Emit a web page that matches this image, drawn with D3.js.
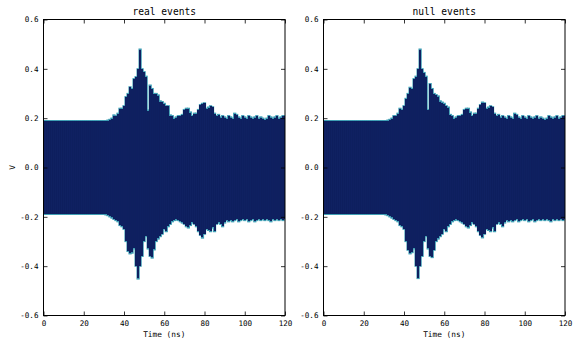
<!DOCTYPE html>
<html>
<head>
<meta charset="utf-8">
<script src="https://cdn.jsdelivr.net/npm/d3@7"></script>
<style>
  body { margin: 0; background: #fff; }
  svg text { font-family: "DejaVu Sans Mono", monospace; fill: #000; }
</style>
</head>
<body>
<svg id="chart" width="581" height="349"></svg>
<script>
// time samples (ns), one per ns
var times = d3.range(0, 121);

var xTicks = [0, 20, 40, 60, 80, 100, 120],
    yTicks = [-0.6, -0.4, -0.2, 0.0, 0.2, 0.4, 0.6];

var panelTitles = ['real events', 'null events'];

// upper / lower envelope of the overlaid traces (V), read per ns
var realUpper = [
    0.19, 0.19, 0.19, 0.19, 0.19, 0.19, 0.19, 0.19, 0.19, 0.19,
    0.19, 0.19, 0.19, 0.19, 0.19, 0.19, 0.19, 0.19, 0.19, 0.19,
    0.19, 0.19, 0.19, 0.19, 0.19, 0.19, 0.19, 0.19, 0.19, 0.19,
    0.19, 0.19, 0.192, 0.195, 0.2, 0.213, 0.21, 0.22, 0.24, 0.24,
    0.25, 0.287, 0.3, 0.327, 0.32, 0.36, 0.368, 0.40, 0.48, 0.40,
    0.388, 0.37, 0.233, 0.334, 0.32, 0.30, 0.30, 0.294, 0.27, 0.267,
    0.26, 0.25, 0.25, 0.213, 0.21, 0.2, 0.205, 0.21, 0.21, 0.215,
    0.235, 0.24, 0.24, 0.225, 0.21, 0.22, 0.22, 0.235, 0.255, 0.26,
    0.262, 0.24, 0.245, 0.25, 0.246, 0.22, 0.21, 0.215, 0.205, 0.21,
    0.205, 0.2, 0.21, 0.205, 0.2, 0.22, 0.215, 0.205, 0.2, 0.21,
    0.205, 0.2, 0.21, 0.205, 0.2, 0.205, 0.21, 0.2, 0.205, 0.2,
    0.195, 0.2, 0.21, 0.205, 0.2, 0.205, 0.21, 0.2, 0.205, 0.21,
    0.21
];
var realLower = [
    -0.19, -0.19, -0.19, -0.19, -0.19, -0.19, -0.19, -0.19, -0.19, -0.19,
    -0.19, -0.19, -0.19, -0.19, -0.19, -0.19, -0.19, -0.19, -0.19, -0.19,
    -0.19, -0.19, -0.19, -0.19, -0.19, -0.19, -0.19, -0.19, -0.19, -0.19,
    -0.19, -0.192, -0.195, -0.2, -0.205, -0.21, -0.215, -0.22, -0.235, -0.24,
    -0.25, -0.30, -0.34, -0.35, -0.347, -0.33, -0.40, -0.452, -0.40, -0.36,
    -0.30, -0.28, -0.33, -0.36, -0.367, -0.334, -0.30, -0.29, -0.28, -0.27,
    -0.25, -0.26, -0.24, -0.23, -0.22, -0.215, -0.213, -0.215, -0.22, -0.225,
    -0.23, -0.24, -0.245, -0.235, -0.225, -0.23, -0.24, -0.26, -0.275, -0.286,
    -0.27, -0.25, -0.255, -0.26, -0.245, -0.26, -0.23, -0.225, -0.23, -0.24,
    -0.225, -0.215, -0.22, -0.215, -0.22, -0.215, -0.21, -0.22, -0.215, -0.21,
    -0.215, -0.21, -0.22, -0.215, -0.21, -0.22, -0.215, -0.21, -0.215, -0.21,
    -0.215, -0.21, -0.215, -0.22, -0.21, -0.215, -0.21, -0.215, -0.21, -0.215,
    -0.21
];
var nullUpper = [
    0.19, 0.19, 0.19, 0.19, 0.19, 0.19, 0.19, 0.19, 0.19, 0.19,
    0.19, 0.19, 0.19, 0.19, 0.19, 0.19, 0.19, 0.19, 0.19, 0.19,
    0.19, 0.19, 0.19, 0.19, 0.19, 0.19, 0.19, 0.19, 0.19, 0.19,
    0.19, 0.19, 0.192, 0.195, 0.2, 0.21, 0.21, 0.22, 0.24, 0.235,
    0.25, 0.28, 0.3, 0.325, 0.32, 0.36, 0.37, 0.40, 0.48, 0.40,
    0.385, 0.37, 0.235, 0.34, 0.32, 0.30, 0.295, 0.29, 0.27, 0.265,
    0.26, 0.25, 0.245, 0.215, 0.21, 0.2, 0.205, 0.21, 0.21, 0.215,
    0.235, 0.24, 0.24, 0.225, 0.21, 0.22, 0.22, 0.24, 0.255, 0.265,
    0.262, 0.24, 0.245, 0.25, 0.246, 0.22, 0.21, 0.215, 0.205, 0.21,
    0.205, 0.2, 0.21, 0.205, 0.2, 0.22, 0.215, 0.205, 0.2, 0.21,
    0.205, 0.2, 0.21, 0.205, 0.2, 0.205, 0.21, 0.2, 0.205, 0.2,
    0.195, 0.2, 0.21, 0.205, 0.2, 0.205, 0.21, 0.2, 0.205, 0.21,
    0.21
];
var nullLower = [
    -0.19, -0.19, -0.19, -0.19, -0.19, -0.19, -0.19, -0.19, -0.19, -0.19,
    -0.19, -0.19, -0.19, -0.19, -0.19, -0.19, -0.19, -0.19, -0.19, -0.19,
    -0.19, -0.19, -0.19, -0.19, -0.19, -0.19, -0.19, -0.19, -0.19, -0.19,
    -0.19, -0.192, -0.195, -0.2, -0.205, -0.21, -0.215, -0.22, -0.235, -0.24,
    -0.25, -0.30, -0.335, -0.35, -0.345, -0.33, -0.40, -0.45, -0.40, -0.36,
    -0.30, -0.28, -0.33, -0.36, -0.365, -0.335, -0.30, -0.29, -0.28, -0.27,
    -0.25, -0.26, -0.24, -0.23, -0.22, -0.215, -0.213, -0.215, -0.22, -0.225,
    -0.23, -0.24, -0.245, -0.235, -0.225, -0.23, -0.24, -0.26, -0.275, -0.285,
    -0.27, -0.25, -0.255, -0.26, -0.245, -0.26, -0.23, -0.225, -0.23, -0.24,
    -0.225, -0.215, -0.22, -0.215, -0.22, -0.215, -0.21, -0.22, -0.215, -0.21,
    -0.215, -0.21, -0.22, -0.215, -0.21, -0.22, -0.215, -0.21, -0.215, -0.21,
    -0.215, -0.21, -0.215, -0.22, -0.21, -0.215, -0.21, -0.215, -0.21, -0.215,
    -0.21
];

var panels = [
    {title: panelTitles[0], upper: realUpper, lower: realLower, left: 43.5, ylabel: 'V'},
    {title: panelTitles[1], upper: nullUpper, lower: nullLower, left: 323.5, ylabel: null}
];

var plotWidth = 241.5,
    plotTop = 19.5,
    plotHeight = 296,
    tickLen = 4;

var svg = d3.select('#chart');

panels.forEach(function(p, pi) {
    var x = d3.scaleLinear().domain([0, 120]).range([0, plotWidth]),
        y = d3.scaleLinear().domain([-0.6, 0.6]).range([plotHeight, 0]);

    var g = svg.append('g').attr('transform', 'translate(' + p.left + ',' + plotTop + ')');

    g.append('clipPath').attr('id', 'clip' + pi)
        .append('rect').attr('width', plotWidth).attr('height', plotHeight);

    var traces = g.append('g').attr('clip-path', 'url(#clip' + pi + ')');

    var rows = times.map(function(t, i) {
        return {t: t, hi: p.upper[i], lo: p.lower[i]};
    });

    // light fringe where single traces stick out of the bundle
    traces.selectAll('rect.fringe').data(rows).enter()
        .append('rect')
            .attr('class', 'fringe')
            .attr('x', function(d) { return x(d.t - 0.5); })
            .attr('width', function(d) { return x(1) - x(0); })
            .attr('y', function(d) { return y(d.hi); })
            .attr('height', function(d) { return y(d.lo) - y(d.hi); })
            .attr('fill', '#24589a')
            .attr('stroke', '#3f9fb4')
            .attr('stroke-width', 1.2);

    // dark body of the traces
    traces.selectAll('rect.body').data(rows).enter()
        .append('rect')
            .attr('class', 'body')
            .attr('x', function(d) { return x(d.t - 0.5); })
            .attr('width', function(d) { return x(1) - x(0); })
            .attr('y', function(d) { return y(d.hi) + 0.6; })
            .attr('height', function(d) { return y(d.lo) - y(d.hi) - 1.2; })
            .attr('fill', '#0e1f5e')
            .attr('shape-rendering', 'crispEdges');

    // faint vertical striations
    traces.selectAll('line.stripe').data(rows).enter()
        .append('line')
            .attr('class', 'stripe')
            .attr('x1', function(d) { return x(d.t); })
            .attr('x2', function(d) { return x(d.t); })
            .attr('y1', function(d) { return y(d.hi) + 1; })
            .attr('y2', function(d) { return y(d.lo) - 1; })
            .attr('stroke', '#1d3a84')
            .attr('stroke-opacity', 0.25)
            .attr('stroke-width', 0.5);

    // axes, ticks pointing inward on all four sides
    var fmt = function(d) { return d.toFixed(1); };

    var bottomAxis = g.append('g')
        .attr('transform', 'translate(0,' + plotHeight + ')')
        .call(d3.axisBottom(x).tickValues(xTicks).tickSizeInner(-tickLen).tickSizeOuter(0).tickPadding(5));
    var leftAxis = g.append('g')
        .call(d3.axisLeft(y).tickValues(yTicks).tickFormat(fmt).tickSizeInner(-tickLen).tickSizeOuter(0).tickPadding(5));
    var topAxis = g.append('g')
        .call(d3.axisTop(x).tickValues(xTicks).tickSizeInner(-tickLen).tickSizeOuter(0).tickFormat(''));
    var rightAxis = g.append('g')
        .attr('transform', 'translate(' + plotWidth + ',0)')
        .call(d3.axisRight(y).tickValues(yTicks).tickSizeInner(-tickLen).tickSizeOuter(0).tickFormat(''));

    [bottomAxis, leftAxis, topAxis, rightAxis].forEach(function(a) {
        a.select('.domain').remove();
        a.selectAll('line').attr('stroke', '#000').attr('stroke-width', 0.8);
        a.selectAll('text').style('font-size', '7.6px').style('font-family', '"DejaVu Sans Mono", monospace');
    });

    g.append('rect')
        .attr('width', plotWidth)
        .attr('height', plotHeight)
        .attr('fill', 'none')
        .attr('stroke', '#000')
        .attr('stroke-width', 1);

    g.append('text')
        .attr('x', plotWidth / 2)
        .attr('y', -5)
        .attr('text-anchor', 'middle')
        .style('font-size', '9.6px')
        .text(p.title);

    g.append('text')
        .attr('x', plotWidth / 2)
        .attr('y', plotHeight + 21)
        .attr('text-anchor', 'middle')
        .style('font-size', '7.8px')
        .text('Time (ns)');

    if (p.ylabel) {
        g.append('text')
            .attr('transform', 'translate(' + (-29) + ',' + (plotHeight / 2) + ') rotate(-90)')
            .attr('text-anchor', 'middle')
            .style('font-size', '7.8px')
            .text(p.ylabel);
    }
});
</script>
</body>
</html>
